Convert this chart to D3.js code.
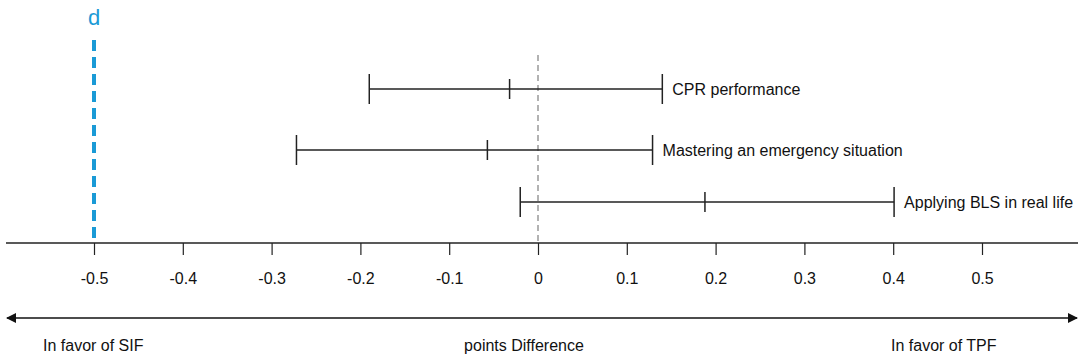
<!DOCTYPE html>
<html>
<head>
<meta charset="utf-8">
<script src="https://cdn.jsdelivr.net/npm/d3@7"></script>
<style>
  body { margin: 0; background: #fff; }
  svg { display: block; font-family: "Liberation Sans", Arial, sans-serif; }
</style>
</head>
<body>
<div id="chart"></div>
<script>
// outcome rows (top to bottom)
const outcomes = ['CPR performance', 'Mastering an emergency situation', 'Applying BLS in real life'];
const lowerCI = [-0.19, -0.272, -0.02];
const estimate = [-0.032, -0.057, 0.188];
const upperCI = [0.14, 0.129, 0.401];

const tickValues = [-0.5, -0.4, -0.3, -0.2, -0.1, 0, 0.1, 0.2, 0.3, 0.4, 0.5];
const thresholdValue = -0.5;
const thresholdLabel = 'd';
const leftNote = 'In favor of SIF';
const centerNote = 'points Difference';
const rightNote = 'In favor of TPF';

const width = 1084, height = 363;
const axisY = 243;

const svg = d3.select('#chart').append('svg')
    .attr('width', width)
    .attr('height', height);

// -0.5 sits at x=94, 0 at x=538
const x = d3.scaleLinear().domain([-0.5, 0.5]).range([94, 982]);
// rows are not evenly spaced in the original
const y = d3.scaleOrdinal().domain(outcomes).range([89, 150, 202]);

// arrow marker
const defs = svg.append('defs');
defs.append('marker')
    .attr('id', 'arrowhead')
    .attr('viewBox', '0 -5 10 10')
    .attr('refX', 9)
    .attr('refY', 0)
    .attr('markerWidth', 10)
    .attr('markerHeight', 10)
    .attr('markerUnits', 'userSpaceOnUse')
    .attr('orient', 'auto-start-reverse')
    .append('path')
    .attr('d', 'M0,-5L10,0L0,5Z')
    .attr('fill', '#111');

// zero reference line
svg.append('line')
    .attr('x1', x(0)).attr('x2', x(0))
    .attr('y1', 55).attr('y2', axisY)
    .attr('stroke', '#999')
    .attr('stroke-width', 1.5)
    .attr('stroke-dasharray', '6,4');

// threshold line
svg.append('line')
    .attr('x1', x(thresholdValue)).attr('x2', x(thresholdValue))
    .attr('y1', 40).attr('y2', axisY - 2)
    .attr('stroke', '#1a9ad6')
    .attr('stroke-width', 4)
    .attr('stroke-dasharray', '11,6');

svg.append('text')
    .attr('x', x(thresholdValue))
    .attr('y', 25)
    .attr('text-anchor', 'middle')
    .attr('font-size', 22)
    .attr('fill', '#1a9ad6')
    .text(thresholdLabel);

// axis
const axis = d3.axisBottom(x)
    .tickValues(tickValues)
    .tickSize(12)
    .tickFormat(d => d === 0 ? '0' : d.toFixed(1));

const gAxis = svg.append('g')
    .attr('transform', `translate(0,${axisY})`)
    .call(axis);
gAxis.select('.domain').remove();
gAxis.selectAll('.tick line').attr('stroke', '#222').attr('stroke-width', 1.2);
gAxis.selectAll('.tick text')
    .attr('font-size', 16)
    .attr('fill', '#111')
    .attr('y', 30);

svg.append('line')
    .attr('x1', 6).attr('x2', 1078)
    .attr('y1', axisY).attr('y2', axisY)
    .attr('stroke', '#222')
    .attr('stroke-width', 1.5);

// error bars
const rows = outcomes.map((name, i) => ({
    name, lo: lowerCI[i], est: estimate[i], hi: upperCI[i]
}));

const bars = svg.append('g')
    .selectAll('g')
    .data(rows)
    .enter()
    .append('g')
    .attr('transform', d => `translate(0,${y(d.name)})`);

bars.append('line')
    .attr('x1', d => x(d.lo)).attr('x2', d => x(d.hi))
    .attr('stroke', '#222').attr('stroke-width', 1.5);

bars.append('line')
    .attr('x1', d => x(d.lo)).attr('x2', d => x(d.lo))
    .attr('y1', -15).attr('y2', 15)
    .attr('stroke', '#222').attr('stroke-width', 1.5);

bars.append('line')
    .attr('x1', d => x(d.hi)).attr('x2', d => x(d.hi))
    .attr('y1', -15).attr('y2', 15)
    .attr('stroke', '#222').attr('stroke-width', 1.5);

bars.append('line')
    .attr('x1', d => x(d.est)).attr('x2', d => x(d.est))
    .attr('y1', -10).attr('y2', 10)
    .attr('stroke', '#222').attr('stroke-width', 1.5);

bars.append('text')
    .attr('x', d => x(d.hi) + 10)
    .attr('dy', '0.35em')
    .attr('font-size', 16)
    .attr('fill', '#111')
    .text(d => d.name);

// bottom double arrow
svg.append('line')
    .attr('x1', 7).attr('x2', 1077)
    .attr('y1', 318).attr('y2', 318)
    .attr('stroke', '#111')
    .attr('stroke-width', 1.5)
    .attr('marker-start', 'url(#arrowhead)')
    .attr('marker-end', 'url(#arrowhead)');

svg.append('text')
    .attr('x', 43).attr('y', 351)
    .attr('font-size', 16).attr('fill', '#111')
    .text(leftNote);

svg.append('text')
    .attr('x', 524).attr('y', 351)
    .attr('text-anchor', 'middle')
    .attr('font-size', 16).attr('fill', '#111')
    .text(centerNote);

svg.append('text')
    .attr('x', 891).attr('y', 351)
    .attr('font-size', 16).attr('fill', '#111')
    .text(rightNote);
</script>
</body>
</html>
